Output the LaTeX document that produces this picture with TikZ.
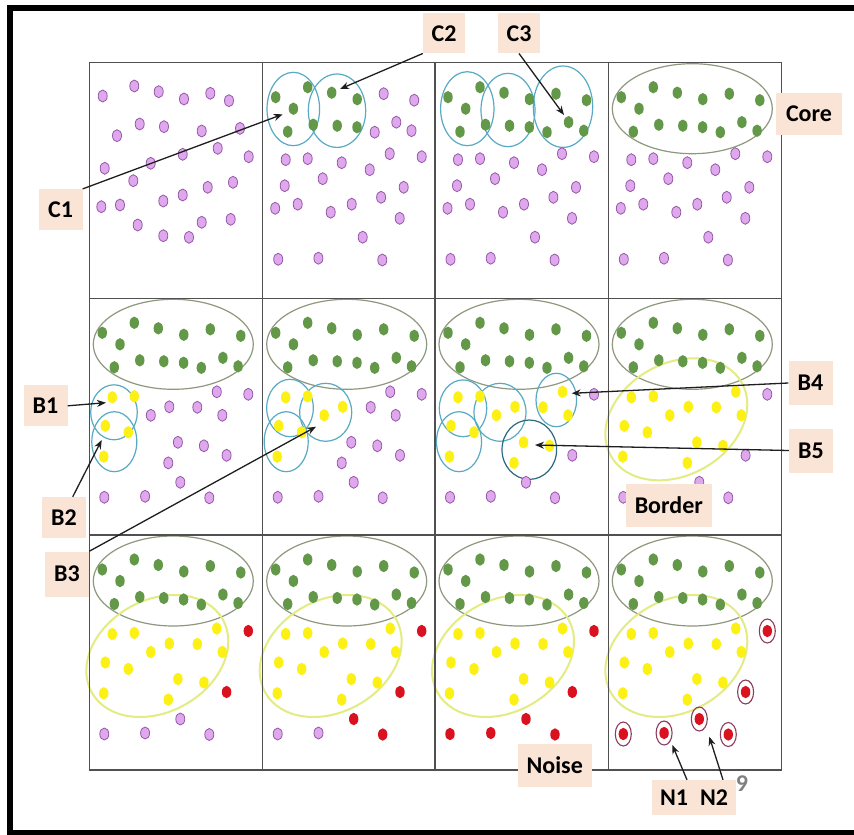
\documentclass[tikz,border=0pt]{standalone}
\usepackage{fontspec}
\setmainfont{Carlito}
\usepackage{tikz}
\usetikzlibrary{arrows.meta, positioning}

\definecolor{dotpurple}{RGB}{224,168,236}
\definecolor{purpleedge}{RGB}{150,88,170}
\definecolor{dotgreen}{RGB}{98,152,72}
\definecolor{dotyellow}{RGB}{252,240,20}
\definecolor{dotred}{RGB}{218,18,32}
\definecolor{ringred}{RGB}{140,60,90}
\definecolor{seedcyan}{RGB}{88,170,196}
\definecolor{seeddark}{RGB}{45,105,125}
\definecolor{coregrey}{RGB}{142,152,126}
\definecolor{borderyellow}{RGB}{226,236,130}
\definecolor{gridgrey}{RGB}{80,80,80}
\definecolor{tagpeach}{RGB}{250,228,214}
\definecolor{arrowblack}{RGB}{30,30,30}

\tikzset{
  pdot/.style={draw=purpleedge, fill=dotpurple, line width=0.8pt, x radius=4.5, y radius=6},
  gdot/.style={fill=dotgreen, x radius=4.7, y radius=6.2},
  ydot/.style={fill=dotyellow, x radius=4.7, y radius=6.2},
  rdot/.style={fill=dotred, x radius=4.7, y radius=6.2},
  ring/.style={draw=ringred, line width=1.1pt, x radius=8, y radius=12},
  seed/.style={draw=seedcyan, line width=1.2pt},
  coreline/.style={draw=coregrey, line width=1.2pt},
  borderline/.style={draw=borderyellow, line width=2pt},
  tag/.style={fill=tagpeach, font=\fontsize{24}{26}\selectfont\bfseries, minimum width=44pt, minimum height=41pt, inner sep=2pt},
  pointer/.style={draw=arrowblack, line width=1.3pt, -{Stealth[length=9pt,width=7pt]}},
}

% point layouts, relative to the top left corner of a cell
\def\firstcell{13.4/33.3, 45/23.3, 69.4/29, 94.7/36.3, 121/30.6, 139.7/38, 27.7/73, 50.4/61.3, 74.7/64, 112.4/68.3, 150.7/65.7, 15.4/105.6, 61.4/100.6, 93.4/91.6, 128.4/85.6, 159.4/94, 44/118, 12/144, 30.7/142.3, 74/138.3, 93.4/132.3, 118.4/124.6, 143.7/119.6, 48.4/162.3, 74/173, 99.7/174.6, 112.4/159.6, 141.4/156.6}
\def\coreleft{13/34.5, 30.7/46, 45/24.5, 69/30, 94.5/36.5, 25/69, 50.5/62, 74.5/63, 94.3/64.5}
\def\coreright{121/31, 151.5/37.5, 112/69.5, 133.6/59.5, 148.8/68}
\def\restpts{23/97, 45/96, 79/100, 107/107, 127/91, 159/94, 22/123, 60/116, 141/124.6, 12.5/145.6, 35/141.5, 68/149.5, 89/141.5, 118.4/134.6, 137/155.6, 100/174.5, 15.5/196.6, 55.7/195.5, 119.6/197.3}
\def\bordA{23/99, 45/98, 16/127.5, 39/134, 14.5/158.3}
\def\bordB{61.5/117, 80/108.5}
\def\bordC{127.5/93.5, 108/109, 133/117, 88.6/144, 114.6/147.5, 79/164.6}
\def\noiseA{159/96, 137.3/157}
\def\noiseB{91/184, 120/199.5}
\def\noiseC{15/199, 55.8/198}

\begin{document}
\begin{tikzpicture}[x=1pt, y=-1pt]
  \useasboundingbox (0,0) rectangle (854,835);
  \fill[white] (0,0) rectangle (854,835);
  \draw[line width=6pt] (858,8) -- (10,8) -- (10,833) -- (858,833);

  % row 1
  \begin{scope}[shift={(89.3,62.7)}]
    \foreach \x/\y in \firstcell \path[pdot] (\x,\y) ellipse[];
  \end{scope}
  \begin{scope}[shift={(262.7,62.7)}]
    \draw[seed] (30.6,46.3) ellipse [x radius=26.3, y radius=36.7];
    \draw[seed] (74.3,48) ellipse [x radius=28.7, y radius=36.7];
    \foreach \x/\y in \coreleft \path[gdot] (\x,\y) ellipse[];
    \foreach \x/\y in \coreright \path[pdot] (\x,\y) ellipse[];
    \foreach \x/\y in \restpts \path[pdot] (\x,\y) ellipse[];
    \coordinate (c1tip) at (20,51.6);
    \coordinate (c2tip) at (77.3,26.3);
  \end{scope}
  \begin{scope}[shift={(435,62.7)}]
    \draw[seed] (32.3,46) ellipse [x radius=26.7, y radius=37];
    \draw[seed] (73,47.3) ellipse [x radius=27, y radius=36.7];
    \draw[seed] (128,44) ellipse [x radius=29.7, y radius=40.7];
    \foreach \x/\y in \coreleft \path[gdot] (\x,\y) ellipse[];
    \foreach \x/\y in \coreright \path[gdot] (\x,\y) ellipse[];
    \foreach \x/\y in \restpts \path[pdot] (\x,\y) ellipse[];
    \coordinate (c3tip) at (129,52.3);
  \end{scope}
  \begin{scope}[shift={(608.3,62.7)}]
    \draw[coreline] (84,46) ellipse [x radius=80, y radius=45];
    \foreach \x/\y in \coreleft \path[gdot] (\x,\y) ellipse[];
    \foreach \x/\y in \coreright \path[gdot] (\x,\y) ellipse[];
    \foreach \x/\y in \restpts \path[pdot] (\x,\y) ellipse[];
  \end{scope}

  % row 2
  \begin{scope}[shift={(89.3,298.3)}]
    \draw[coreline] (84,46) ellipse [x radius=80, y radius=45];
    \draw[seed] (24.7,114) ellipse [x radius=23.3, y radius=27.5];
    \draw[seed] (25,143.4) ellipse [x radius=22.5, y radius=30];
    \foreach \x/\y in \coreleft \path[gdot] (\x,\y) ellipse[];
    \foreach \x/\y in \coreright \path[gdot] (\x,\y) ellipse[];
    \foreach \x/\y in \bordA \path[ydot] (\x,\y) ellipse[];
    \foreach \x/\y in \bordB \path[pdot] (\x,\y) ellipse[];
    \foreach \x/\y in \bordC \path[pdot] (\x,\y) ellipse[];
    \foreach \x/\y in \noiseA \path[pdot] (\x,\y) ellipse[];
    \foreach \x/\y in \noiseB \path[pdot] (\x,\y) ellipse[];
    \foreach \x/\y in \noiseC \path[pdot] (\x,\y) ellipse[];
    \coordinate (b1tip) at (16.7,104.4);
    \coordinate (b2tip) at (12.4,141.7);
  \end{scope}
  \begin{scope}[shift={(262.7,298.3)}]
    \draw[coreline] (84,46) ellipse [x radius=80, y radius=45];
    \draw[seed] (27.3,109.7) ellipse [x radius=23.3, y radius=28.7];
    \draw[seed] (23.5,143.4) ellipse [x radius=22, y radius=30];
    \draw[seed] (63,114) ellipse [x radius=26, y radius=29];
    \foreach \x/\y in \coreleft \path[gdot] (\x,\y) ellipse[];
    \foreach \x/\y in \coreright \path[gdot] (\x,\y) ellipse[];
    \foreach \x/\y in \bordA \path[ydot] (\x,\y) ellipse[];
    \foreach \x/\y in \bordB \path[ydot] (\x,\y) ellipse[];
    \foreach \x/\y in \bordC \path[pdot] (\x,\y) ellipse[];
    \foreach \x/\y in \noiseA \path[pdot] (\x,\y) ellipse[];
    \foreach \x/\y in \noiseB \path[pdot] (\x,\y) ellipse[];
    \foreach \x/\y in \noiseC \path[pdot] (\x,\y) ellipse[];
    \coordinate (b3tip) at (53.3,128.4);
  \end{scope}
  \begin{scope}[shift={(435,298.3)}]
    \draw[coreline] (84,46) ellipse [x radius=80, y radius=45];
    \draw[seed] (28,110) ellipse [x radius=23.7, y radius=28.4];
    \draw[seed] (24,143.4) ellipse [x radius=22.5, y radius=30];
    \draw[seed] (65,114) ellipse [x radius=26, y radius=29];
    \draw[seed] (121.3,101.7) ellipse [x radius=20.3, y radius=26.7];
    \draw[seed, draw=seeddark] (94.3,151.4) ellipse [x radius=27.3, y radius=29.7];
    \foreach \x/\y in \coreleft \path[gdot] (\x,\y) ellipse[];
    \foreach \x/\y in \coreright \path[gdot] (\x,\y) ellipse[];
    \foreach \x/\y in \bordA \path[ydot] (\x,\y) ellipse[];
    \foreach \x/\y in \bordB \path[ydot] (\x,\y) ellipse[];
    \foreach \x/\y in \bordC \path[ydot] (\x,\y) ellipse[];
    \foreach \x/\y in \noiseA \path[pdot] (\x,\y) ellipse[];
    \foreach \x/\y in \noiseB \path[pdot] (\x,\y) ellipse[];
    \foreach \x/\y in \noiseC \path[pdot] (\x,\y) ellipse[];
    \coordinate (b4tip) at (136.7,95);
    \coordinate (b5tip) at (100,146.7);
  \end{scope}
  \begin{scope}[shift={(608.3,298.3)}]
    \draw[coreline] (84,46) ellipse [x radius=80, y radius=45];
    \draw[borderline, rotate around={29:(68,121)}] (68,121) ellipse [x radius=75, y radius=56];
    \foreach \x/\y in \coreleft \path[gdot] (\x,\y) ellipse[];
    \foreach \x/\y in \coreright \path[gdot] (\x,\y) ellipse[];
    \foreach \x/\y in \bordA \path[ydot] (\x,\y) ellipse[];
    \foreach \x/\y in \bordB \path[ydot] (\x,\y) ellipse[];
    \foreach \x/\y in \bordC \path[ydot] (\x,\y) ellipse[];
    \foreach \x/\y in \noiseA \path[pdot] (\x,\y) ellipse[];
    \foreach \x/\y in \noiseB \path[pdot] (\x,\y) ellipse[];
    \foreach \x/\y in \noiseC \path[pdot] (\x,\y) ellipse[];
  \end{scope}

  % row 3
  \begin{scope}[shift={(89.3,535)}]
    \draw[coreline] (84,46) ellipse [x radius=80, y radius=45];
    \draw[borderline, rotate around={29:(68,121)}] (68,121) ellipse [x radius=75, y radius=56];
    \foreach \x/\y in \coreleft \path[gdot] (\x,\y) ellipse[];
    \foreach \x/\y in \coreright \path[gdot] (\x,\y) ellipse[];
    \foreach \x/\y in \bordA \path[ydot] (\x,\y) ellipse[];
    \foreach \x/\y in \bordB \path[ydot] (\x,\y) ellipse[];
    \foreach \x/\y in \bordC \path[ydot] (\x,\y) ellipse[];
    \foreach \x/\y in \noiseA \path[rdot] (\x,\y) ellipse[];
    \foreach \x/\y in \noiseB \path[pdot] (\x,\y) ellipse[];
    \foreach \x/\y in \noiseC \path[pdot] (\x,\y) ellipse[];
  \end{scope}
  \begin{scope}[shift={(262.7,535)}]
    \draw[coreline] (84,46) ellipse [x radius=80, y radius=45];
    \draw[borderline, rotate around={29:(68,121)}] (68,121) ellipse [x radius=75, y radius=56];
    \foreach \x/\y in \coreleft \path[gdot] (\x,\y) ellipse[];
    \foreach \x/\y in \coreright \path[gdot] (\x,\y) ellipse[];
    \foreach \x/\y in \bordA \path[ydot] (\x,\y) ellipse[];
    \foreach \x/\y in \bordB \path[ydot] (\x,\y) ellipse[];
    \foreach \x/\y in \bordC \path[ydot] (\x,\y) ellipse[];
    \foreach \x/\y in \noiseA \path[rdot] (\x,\y) ellipse[];
    \foreach \x/\y in \noiseB \path[rdot] (\x,\y) ellipse[];
    \foreach \x/\y in \noiseC \path[pdot] (\x,\y) ellipse[];
  \end{scope}
  \begin{scope}[shift={(435,535)}]
    \draw[coreline] (84,46) ellipse [x radius=80, y radius=45];
    \draw[borderline, rotate around={29:(68,121)}] (68,121) ellipse [x radius=75, y radius=56];
    \foreach \x/\y in \coreleft \path[gdot] (\x,\y) ellipse[];
    \foreach \x/\y in \coreright \path[gdot] (\x,\y) ellipse[];
    \foreach \x/\y in \bordA \path[ydot] (\x,\y) ellipse[];
    \foreach \x/\y in \bordB \path[ydot] (\x,\y) ellipse[];
    \foreach \x/\y in \bordC \path[ydot] (\x,\y) ellipse[];
    \foreach \x/\y in \noiseA \path[rdot] (\x,\y) ellipse[];
    \foreach \x/\y in \noiseB \path[rdot] (\x,\y) ellipse[];
    \foreach \x/\y in \noiseC \path[rdot] (\x,\y) ellipse[];
  \end{scope}
  \begin{scope}[shift={(608.3,535)}]
    \draw[coreline] (84,46) ellipse [x radius=80, y radius=45];
    \draw[borderline, rotate around={29:(68,121)}] (68,121) ellipse [x radius=75, y radius=56];
    \foreach \x/\y in \coreleft \path[gdot] (\x,\y) ellipse[];
    \foreach \x/\y in \coreright \path[gdot] (\x,\y) ellipse[];
    \foreach \x/\y in \bordA \path[ydot] (\x,\y) ellipse[];
    \foreach \x/\y in \bordB \path[ydot] (\x,\y) ellipse[];
    \foreach \x/\y in \bordC \path[ydot] (\x,\y) ellipse[];
    \foreach \x/\y in \noiseA {\path[ring] (\x,\y) ellipse[]; \path[rdot] (\x,\y) ellipse[];}
    \foreach \x/\y in \noiseB {\path[ring] (\x,\y) ellipse[]; \path[rdot] (\x,\y) ellipse[];}
    \foreach \x/\y in \noiseC {\path[ring] (\x,\y) ellipse[]; \path[rdot] (\x,\y) ellipse[];}
    \coordinate (n1tip) at (64,210);
    \coordinate (n2tip) at (101,201.7);
  \end{scope}

  % grid
  \foreach \gx in {89.3, 262.7, 435, 608.3, 781.7}
    \draw[gridgrey, line width=1.5pt] (\gx,62.7) -- (\gx,770);
  \foreach \gy in {62.7, 298.3, 535, 770}
    \draw[gridgrey, line width=1.5pt] (89.3,\gy) -- (781.7,\gy);

  % labels and pointers
  \node[tag] (c1) at (60.5,209.6) {C1};
  \node[tag, minimum width=42pt, minimum height=40pt] (c2) at (444,33.3) {C2};
  \node[tag, minimum width=42pt, minimum height=40pt] (c3) at (519,33.3) {C3};
  \node[tag, minimum width=66pt, minimum height=42pt] (core) at (809,114) {Core};
  \node[tag] (b1) at (45.5,405.8) {B1};
  \node[tag] (b2) at (64,517.5) {B2};
  \node[tag, minimum height=45pt] (b3) at (67,574) {B3};
  \node[tag, minimum height=44pt] (b4) at (810.5,383) {B4};
  \node[tag, minimum height=44pt] (b5) at (811,450.5) {B5};
  \node[tag, minimum width=86pt, minimum height=43pt] (border) at (668.8,505) {Border};
  \node[tag, minimum width=74pt, minimum height=43pt] (noise) at (554.7,765.3) {Noise};
  \node[tag, minimum width=84pt, minimum height=35pt] (n12) at (694,797.5) {N1\enspace N2};
  \node[text=gray, font=\fontsize{24}{26}\selectfont\bfseries] (pagenum) at (742,784) {9};

  \draw[pointer] (c1.north east) -- (c1tip);
  \draw[pointer] (c2.south west) -- (c2tip);
  \draw[pointer] (c3.south) -- (c3tip);
  \draw[pointer] (b1.east) -- (b1tip);
  \draw[pointer] ([xshift=8.7pt]b2.north) -- (b2tip);
  \draw[pointer] (b3.north east) -- (b3tip);
  \draw[pointer] (b4.west) -- (b4tip);
  \draw[pointer] (b5.west) -- (b5tip);
  \draw[pointer] ([xshift=-7pt]n12.north) -- (n1tip);
  \draw[pointer] ([xshift=29pt]n12.north) -- (n2tip);
\end{tikzpicture}
\end{document}
